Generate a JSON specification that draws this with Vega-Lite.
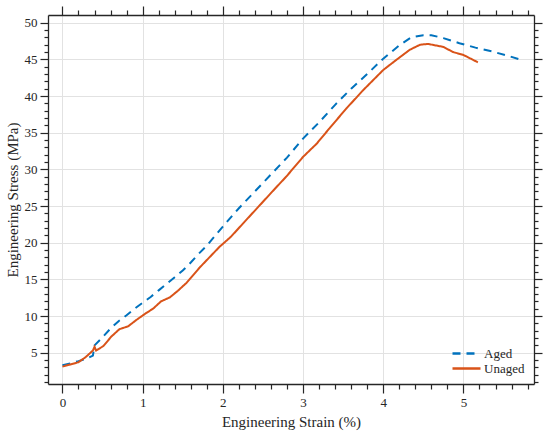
{
  "$schema": "https://vega.github.io/schema/vega-lite/v6.json",
  "width": 486,
  "height": 369,
  "autosize": "none",
  "padding": {"left": 48, "top": 15, "right": 16, "bottom": 52},
  "background": "white",
  "config": {
    "font": "Liberation Serif",
    "view": {"stroke": null},
    "axis": {
      "domainColor": "#262626",
      "domainWidth": 1.3,
      "tickColor": "#262626",
      "tickWidth": 1.2,
      "titleFontWeight": "normal",
      "titleColor": "#262626",
      "gridColor": "#e2e2e2",
      "gridWidth": 1
    }
  },
  "data": {
    "values": [
      {"strain": 0, "stress": 3.3, "sample": "Aged"},
      {"strain": 0.1, "stress": 3.55, "sample": "Aged"},
      {"strain": 0.2, "stress": 3.85, "sample": "Aged"},
      {"strain": 0.3, "stress": 4.2, "sample": "Aged"},
      {"strain": 0.38, "stress": 4.6, "sample": "Aged"},
      {"strain": 0.4, "stress": 6.0, "sample": "Aged"},
      {"strain": 0.5, "stress": 7.1, "sample": "Aged"},
      {"strain": 0.6, "stress": 8.3, "sample": "Aged"},
      {"strain": 0.7, "stress": 9.3, "sample": "Aged"},
      {"strain": 0.8, "stress": 10.1, "sample": "Aged"},
      {"strain": 0.9, "stress": 11.0, "sample": "Aged"},
      {"strain": 1.0, "stress": 11.8, "sample": "Aged"},
      {"strain": 1.1, "stress": 12.6, "sample": "Aged"},
      {"strain": 1.2, "stress": 13.5, "sample": "Aged"},
      {"strain": 1.3, "stress": 14.4, "sample": "Aged"},
      {"strain": 1.4, "stress": 15.3, "sample": "Aged"},
      {"strain": 1.5, "stress": 16.2, "sample": "Aged"},
      {"strain": 1.6, "stress": 17.3, "sample": "Aged"},
      {"strain": 1.7, "stress": 18.5, "sample": "Aged"},
      {"strain": 1.8, "stress": 19.6, "sample": "Aged"},
      {"strain": 1.9, "stress": 20.9, "sample": "Aged"},
      {"strain": 2.0, "stress": 22.2, "sample": "Aged"},
      {"strain": 2.2, "stress": 24.7, "sample": "Aged"},
      {"strain": 2.4, "stress": 27.0, "sample": "Aged"},
      {"strain": 2.6, "stress": 29.3, "sample": "Aged"},
      {"strain": 2.8, "stress": 31.6, "sample": "Aged"},
      {"strain": 3.0, "stress": 34.2, "sample": "Aged"},
      {"strain": 3.2, "stress": 36.4, "sample": "Aged"},
      {"strain": 3.4, "stress": 38.8, "sample": "Aged"},
      {"strain": 3.6, "stress": 41.0, "sample": "Aged"},
      {"strain": 3.8, "stress": 43.0, "sample": "Aged"},
      {"strain": 4.0, "stress": 45.1, "sample": "Aged"},
      {"strain": 4.2, "stress": 46.9, "sample": "Aged"},
      {"strain": 4.35, "stress": 48.0, "sample": "Aged"},
      {"strain": 4.5, "stress": 48.3, "sample": "Aged"},
      {"strain": 4.6, "stress": 48.3, "sample": "Aged"},
      {"strain": 4.75, "stress": 47.9, "sample": "Aged"},
      {"strain": 4.95, "stress": 47.2, "sample": "Aged"},
      {"strain": 5.15, "stress": 46.6, "sample": "Aged"},
      {"strain": 5.35, "stress": 46.1, "sample": "Aged"},
      {"strain": 5.55, "stress": 45.5, "sample": "Aged"},
      {"strain": 5.7, "stress": 45.0, "sample": "Aged"},
      {"strain": 0, "stress": 3.1, "sample": "Unaged"},
      {"strain": 0.1, "stress": 3.4, "sample": "Unaged"},
      {"strain": 0.2, "stress": 3.7, "sample": "Unaged"},
      {"strain": 0.29, "stress": 4.4, "sample": "Unaged"},
      {"strain": 0.38, "stress": 5.3, "sample": "Unaged"},
      {"strain": 0.4, "stress": 5.8, "sample": "Unaged"},
      {"strain": 0.42, "stress": 5.3, "sample": "Unaged"},
      {"strain": 0.51, "stress": 5.9, "sample": "Unaged"},
      {"strain": 0.61, "stress": 7.2, "sample": "Unaged"},
      {"strain": 0.71, "stress": 8.2, "sample": "Unaged"},
      {"strain": 0.82, "stress": 8.6, "sample": "Unaged"},
      {"strain": 0.92, "stress": 9.45, "sample": "Unaged"},
      {"strain": 1.03, "stress": 10.3, "sample": "Unaged"},
      {"strain": 1.13, "stress": 11.0, "sample": "Unaged"},
      {"strain": 1.23, "stress": 12.0, "sample": "Unaged"},
      {"strain": 1.34, "stress": 12.55, "sample": "Unaged"},
      {"strain": 1.44, "stress": 13.45, "sample": "Unaged"},
      {"strain": 1.55, "stress": 14.55, "sample": "Unaged"},
      {"strain": 1.71, "stress": 16.6, "sample": "Unaged"},
      {"strain": 1.96, "stress": 19.45, "sample": "Unaged"},
      {"strain": 2.1, "stress": 20.8, "sample": "Unaged"},
      {"strain": 2.25, "stress": 22.6, "sample": "Unaged"},
      {"strain": 2.46, "stress": 25.1, "sample": "Unaged"},
      {"strain": 2.67, "stress": 27.6, "sample": "Unaged"},
      {"strain": 2.79, "stress": 29.0, "sample": "Unaged"},
      {"strain": 3.0, "stress": 31.7, "sample": "Unaged"},
      {"strain": 3.17, "stress": 33.5, "sample": "Unaged"},
      {"strain": 3.33, "stress": 35.6, "sample": "Unaged"},
      {"strain": 3.54, "stress": 38.3, "sample": "Unaged"},
      {"strain": 3.75, "stress": 40.8, "sample": "Unaged"},
      {"strain": 4.0, "stress": 43.55, "sample": "Unaged"},
      {"strain": 4.16, "stress": 44.9, "sample": "Unaged"},
      {"strain": 4.33, "stress": 46.3, "sample": "Unaged"},
      {"strain": 4.46, "stress": 47.0, "sample": "Unaged"},
      {"strain": 4.56, "stress": 47.1, "sample": "Unaged"},
      {"strain": 4.75, "stress": 46.7, "sample": "Unaged"},
      {"strain": 4.87, "stress": 46.0, "sample": "Unaged"},
      {"strain": 5.0, "stress": 45.6, "sample": "Unaged"},
      {"strain": 5.18, "stress": 44.6, "sample": "Unaged"}
    ]
  },
  "layer": [
    {
      "mark": {"type": "line", "strokeWidth": 2},
      "encoding": {
        "x": {
          "field": "strain",
          "type": "quantitative",
          "title": "Engineering Strain (%)",
          "scale": {"domain": [-0.18, 5.88], "nice": false, "zero": false},
          "axis": {
            "orient": "bottom",
            "values": [0, 1, 2, 3, 4, 5],
            "format": "d",
            "tickSize": 9,
            "grid": true,
            "labelFont": "Liberation Serif",
            "labelFontSize": 13,
            "labelColor": "#262626",
            "titleFont": "Liberation Serif",
            "titleFontSize": 15,
            "labelPadding": 3,
            "titlePadding": 5
          }
        },
        "y": {
          "field": "stress",
          "type": "quantitative",
          "title": "Engineering Stress (MPa)",
          "scale": {"domain": [0.73, 51.05], "nice": false, "zero": false},
          "axis": {
            "orient": "left",
            "values": [5, 10, 15, 20, 25, 30, 35, 40, 45, 50],
            "format": "d",
            "tickSize": 8,
            "grid": true,
            "labelFont": "Liberation Serif",
            "labelFontSize": 13,
            "labelColor": "#262626",
            "titleFont": "Liberation Serif",
            "titleFontSize": 15,
            "labelPadding": 3,
            "titlePadding": 4
          }
        },
        "color": {
          "field": "sample",
          "type": "nominal",
          "scale": {"domain": ["Aged", "Unaged"], "range": ["#0072BD", "#D95319"]},
          "legend": {
            "title": null,
            "orient": "none",
            "legendX": 403,
            "legendY": 331,
            "symbolType": "M-1,0H1",
            "symbolSize": 784,
            "symbolStrokeWidth": 2.5,
            "clipHeight": 15,
            "labelFont": "Liberation Serif",
            "labelFontSize": 13,
            "labelColor": "#262626",
            "labelOffset": 2,
            "rowPadding": 0
          }
        },
        "strokeDash": {
          "field": "sample",
          "type": "nominal",
          "scale": {"domain": ["Aged", "Unaged"], "range": [[8, 6], [1, 0]]},
          "legend": null
        }
      }
    },
    {
      "mark": {"type": "line", "opacity": 0},
      "encoding": {
        "x": {
          "field": "strain",
          "type": "quantitative",
          "scale": {"domain": [-0.18, 5.88], "nice": false, "zero": false},
          "axis": {
            "orient": "bottom",
            "title": null,
            "labels": false,
            "grid": false,
            "domain": false,
            "values": [0.2, 0.4, 0.6, 0.8, 1.2, 1.4, 1.6, 1.8, 2.2, 2.4, 2.6, 2.8, 3.2, 3.4, 3.6, 3.8, 4.2, 4.4, 4.6, 4.8, 5.2, 5.4, 5.6, 5.8],
            "tickSize": 5
          }
        },
        "y": {
          "field": "stress",
          "type": "quantitative",
          "scale": {"domain": [0.73, 51.05], "nice": false, "zero": false},
          "axis": {
            "orient": "left",
            "title": null,
            "labels": false,
            "grid": false,
            "domain": false,
            "values": [1, 2, 3, 4, 6, 7, 8, 9, 11, 12, 13, 14, 16, 17, 18, 19, 21, 22, 23, 24, 26, 27, 28, 29, 31, 32, 33, 34, 36, 37, 38, 39, 41, 42, 43, 44, 46, 47, 48, 49],
            "tickSize": 4
          }
        }
      }
    },
    {
      "mark": {"type": "line", "opacity": 0},
      "encoding": {
        "x": {
          "field": "strain",
          "type": "quantitative",
          "scale": {"domain": [-0.18, 5.88], "nice": false, "zero": false},
          "axis": {
            "orient": "top",
            "title": null,
            "labels": false,
            "grid": false,
            "values": [0, 1, 2, 3, 4, 5],
            "tickSize": 9
          }
        },
        "y": {
          "field": "stress",
          "type": "quantitative",
          "scale": {"domain": [0.73, 51.05], "nice": false, "zero": false},
          "axis": {
            "orient": "right",
            "title": null,
            "labels": false,
            "grid": false,
            "values": [5, 10, 15, 20, 25, 30, 35, 40, 45, 50],
            "tickSize": 8
          }
        }
      }
    },
    {
      "mark": {"type": "line", "opacity": 0},
      "encoding": {
        "x": {
          "field": "strain",
          "type": "quantitative",
          "scale": {"domain": [-0.18, 5.88], "nice": false, "zero": false},
          "axis": {
            "orient": "top",
            "title": null,
            "labels": false,
            "grid": false,
            "domain": false,
            "values": [0.2, 0.4, 0.6, 0.8, 1.2, 1.4, 1.6, 1.8, 2.2, 2.4, 2.6, 2.8, 3.2, 3.4, 3.6, 3.8, 4.2, 4.4, 4.6, 4.8, 5.2, 5.4, 5.6, 5.8],
            "tickSize": 5
          }
        },
        "y": {
          "field": "stress",
          "type": "quantitative",
          "scale": {"domain": [0.73, 51.05], "nice": false, "zero": false},
          "axis": {
            "orient": "right",
            "title": null,
            "labels": false,
            "grid": false,
            "domain": false,
            "values": [1, 2, 3, 4, 6, 7, 8, 9, 11, 12, 13, 14, 16, 17, 18, 19, 21, 22, 23, 24, 26, 27, 28, 29, 31, 32, 33, 34, 36, 37, 38, 39, 41, 42, 43, 44, 46, 47, 48, 49],
            "tickSize": 4
          }
        }
      }
    }
  ],
  "resolve": {"axis": {"x": "independent", "y": "independent"}}
}
